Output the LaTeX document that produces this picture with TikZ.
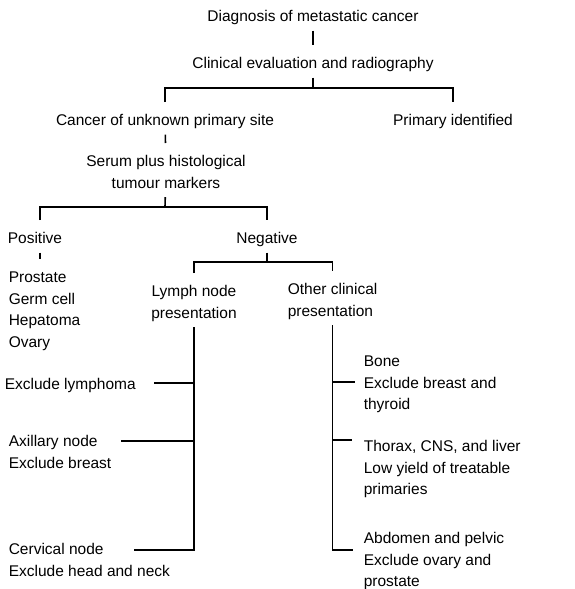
\documentclass[tikz,border=0pt]{standalone}
\usepackage{fontspec}
\setmainfont{Liberation Sans}
% struts: room above the first line and below the last one
\newcommand{\tstr}{\rule{0pt}{23pt}}
\newcommand{\bstr}{\rule[-8pt]{0pt}{8pt}}

\begin{document}
\begin{tikzpicture} [ % styles first
    x=1pt, y=-1pt, line width=1.6pt, font=\fontsize{15.5}{21.5}\selectfont,
    txt/.style = {inner sep=0pt, text=black},
    mid/.style = {txt, anchor=north, align=center},
    lft/.style = {txt, anchor=north west, align=left}
]

\useasboundingbox (0,0) rectangle (574,589);

% top
\node [mid] (diag) at (313,-2){\tstr Diagnosis of metastatic cancer\bstr};
\node [mid] (clin) at (313,45){\tstr Clinical evaluation and radiography\bstr};
\node [mid] (cup) at (165,102){\tstr Cancer of unknown primary site\bstr};
\node [mid] (prim) at (453,102){\tstr Primary identified\bstr};
\node [mid] (serum) at (166,143){\tstr Serum plus histological\\tumour markers\bstr};

% middle
\node [lft] (pos) at (7,220){\tstr Positive\bstr};
\node [lft] (posl) at (8,259){\tstr Prostate\\Germ cell\\Hepatoma\\Ovary\bstr};
\node [mid] (neg) at (267,220){\tstr Negative\bstr};
\node [mid] (lym) at (194,273){\tstr Lymph node\\presentation\bstr};
\node [lft] (oth) at (287,271){\tstr Other clinical\\presentation\bstr};

% left side
\node [lft] (exlym) at (4,366){\tstr Exclude lymphoma\bstr};
\node [lft] (axil) at (8,423){\tstr Axillary node\\Exclude breast\bstr};
\node [lft] (cerv) at (8,531){\tstr Cervical node\\Exclude head and neck\bstr};

% right side
\node [lft] (bone) at (363,343){\tstr Bone\\Exclude breast and\\thyroid\bstr};
\node [lft] (thor) at (363,428){\tstr Thorax, CNS, and liver\\Low yield of treatable\\primaries\bstr};
\node [lft] (abd) at (363,520){\tstr Abdomen and pelvic\\Exclude ovary and\\prostate\bstr};

% junctions
\coordinate (j1) at (313,88);
\coordinate (j2) at (165,207);
\coordinate (j3) at (267,262);
\coordinate (l1) at (154,383);
\coordinate (l2) at (121,441);
\coordinate (l3) at (134,550);
\coordinate (r1) at (355,382);
\coordinate (r2) at (352,440);
\coordinate (r3) at (353,550);

% lines
\draw (diag)--(clin);
\draw (clin)--(j1);
\draw (cup) |- (j1) -| (prim);
\draw (cup)--(serum);
\draw (serum)--(j2);
\draw ([xshift=5pt]pos.north) |- (j2) -| (neg);
\draw ([xshift=5pt]pos.south)--([xshift=5pt]pos.south |- posl.north);
\draw (neg)--(j3);
\draw (lym) |- (j3) -| (oth);

\draw (lym) |- (l3);
\draw (lym |- l1)--(l1);
\draw (lym |- l2)--(l2);

\draw (oth) |- (r3);
\draw (oth |- r1)--(r1);
\draw (oth |- r2)--(r2);

\end{tikzpicture}
\end{document}
